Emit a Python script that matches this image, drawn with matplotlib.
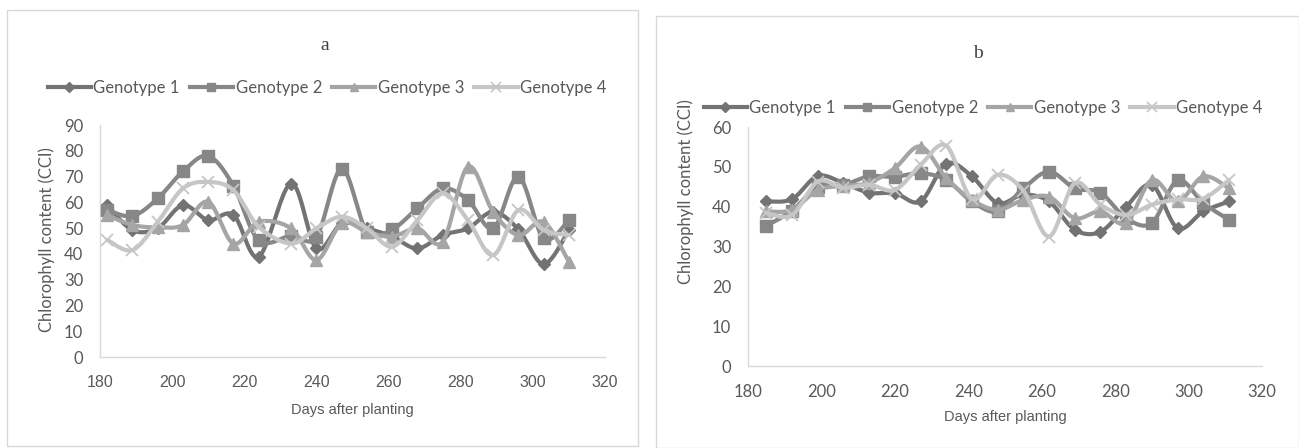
import numpy as np
import matplotlib
matplotlib.use("Agg")
import matplotlib.pyplot as plt
from matplotlib.patches import Rectangle
from matplotlib.lines import Line2D

# ---------------- data ----------------
series_names = ["Genotype 1", "Genotype 2", "Genotype 3", "Genotype 4"]

days_a = [182, 189, 196, 203, 210, 217, 224, 233, 240, 247, 254, 261, 268, 275, 282, 289, 296, 303, 310]
gen1_a = [58.9, 49.2, 50.0, 58.9, 53.1, 55.1, 38.9, 67.3, 42.1, 51.8, 49.9, 46.7, 42.1, 47.3, 49.9, 56.3, 49.5, 36.0, 49.2]
gen2_a = [57.0, 54.7, 61.5, 72.0, 78.0, 66.4, 45.3, 47.0, 46.6, 73.0, 48.6, 49.5, 57.7, 65.4, 60.9, 49.9, 69.9, 46.0, 53.1]
gen3_a = [55.0, 51.2, 50.3, 51.2, 60.2, 44.0, 52.4, 49.9, 37.6, 51.8, 48.6, 46.7, 49.9, 44.7, 73.8, 56.3, 47.3, 52.4, 36.9]
gen4_a = [45.4, 41.5, 52.4, 65.4, 67.9, 64.7, 50.5, 44.0, 49.9, 54.4, 49.9, 42.8, 53.1, 63.5, 53.1, 39.5, 57.0, 49.2, 47.3]

days_b = [185, 192, 199, 206, 213, 220, 227, 234, 241, 248, 255, 262, 269, 276, 283, 290, 297, 304, 311]
gen1_b = [41.3, 41.9, 47.7, 45.9, 43.5, 43.4, 41.3, 50.8, 47.6, 40.9, 43.0, 41.3, 34.2, 33.7, 40.0, 45.5, 34.6, 38.8, 41.3]
gen2_b = [35.2, 39.0, 45.0, 45.5, 47.6, 47.5, 48.4, 46.7, 41.3, 38.8, 44.6, 48.8, 44.6, 43.5, 37.1, 35.9, 46.6, 40.9, 36.7]
gen3_b = [38.8, 39.2, 44.2, 45.2, 46.0, 49.7, 55.1, 47.2, 41.7, 39.2, 41.7, 42.5, 37.1, 38.8, 35.9, 46.7, 41.3, 47.6, 44.6]
gen4_b = [38.4, 37.9, 46.3, 44.7, 45.5, 44.2, 50.5, 55.3, 41.9, 48.0, 44.0, 32.5, 45.9, 40.5, 37.9, 40.5, 41.8, 42.0, 46.7]

xticks = [180, 200, 220, 240, 260, 280, 300, 320]
yticks_a = [0, 10, 20, 30, 40, 50, 60, 70, 80, 90]
yticks_b = [0, 10, 20, 30, 40, 50, 60]

# ---------------- style ----------------
colors = ["#737373", "#878787", "#a5a5a5", "#c6c6c6"]
markers = ["D", "s", "^", "x"]
msizes = [6.5, 8, 8.5, 9]
W, H = 1299, 448
font_main = "Lato"
txt_col = "#595959"


def smooth(x, y, n=24):
    pts = np.column_stack([np.asarray(x, float), np.asarray(y, float)])
    out = []
    m = len(pts)
    for i in range(m - 1):
        p0 = pts[i - 1] if i > 0 else pts[i]
        p1 = pts[i]
        p2 = pts[i + 1]
        p3 = pts[i + 2] if i + 2 < m else pts[i + 1]
        c1 = p1 + (p2 - p0) / 6.0
        c2 = p2 - (p3 - p1) / 6.0
        t = np.linspace(0, 1, n)[:, None]
        seg = ((1 - t) ** 3) * p1 + 3 * ((1 - t) ** 2) * t * c1 + 3 * (1 - t) * t ** 2 * c2 + t ** 3 * p2
        if i > 0:
            seg = seg[1:]
        out.append(seg)
    out = np.vstack(out)
    return out[:, 0], out[:, 1]


fig = plt.figure(figsize=(W / 100, H / 100), dpi=100)
fig.patch.set_facecolor("white")


def px_axes(l, t, r, b):
    return fig.add_axes([l / W, 1 - b / H, (r - l) / W, (b - t) / H])


def draw_panel(rect, border, days, data, yticks, ymax, title, title_xy, leg_xy,
               ylab_xy, xlab_y, xtick_font, xtick_size):
    bl, bt, br, bb = border
    fig.patches.append(Rectangle((bl / W, 1 - bb / H), (br - bl) / W, (bb - bt) / H,
                                 transform=fig.transFigure, fill=False,
                                 edgecolor="#d9d9d9", linewidth=1.0))
    ax = px_axes(*rect)
    for k, ys in enumerate(data):
        sx, sy = smooth(days, ys)
        ax.plot(sx, sy, color=colors[k], linewidth=3.0, solid_capstyle="round", zorder=2 + k)
        if markers[k] == "x":
            ax.plot(days, ys, linestyle="none", marker="x", markersize=msizes[k],
                    markeredgewidth=1.3, color=colors[k], zorder=2 + k)
        else:
            ax.plot(days, ys, linestyle="none", marker=markers[k], markersize=msizes[k],
                    markerfacecolor=colors[k], markeredgecolor=colors[k], zorder=2 + k)
    ax.set_xlim(180, 320)
    ax.set_ylim(0, ymax)
    ax.set_xticks(xticks)
    ax.set_yticks(yticks)
    ax.tick_params(axis="y", length=0, labelsize=12, colors=txt_col, pad=12)
    ax.tick_params(axis="x", length=0, labelsize=xtick_size, colors=txt_col, pad=13)
    for lab in ax.get_yticklabels():
        lab.set_fontfamily(font_main)
    for lab in ax.get_xticklabels():
        lab.set_fontfamily(xtick_font)
    for s in ["top", "right"]:
        ax.spines[s].set_visible(False)
    for s in ["left", "bottom"]:
        ax.spines[s].set_color("#d9d9d9")
        ax.spines[s].set_linewidth(1.0)
    ax.set_facecolor("none")
    fig.text(ylab_xy[0] / W, 1 - ylab_xy[1] / H, "Chlorophyll content (CCI)",
             rotation=90, ha="center", va="center", fontsize=12, color=txt_col, family=font_main)
    fig.text(((rect[0] + rect[2]) / 2) / W, 1 - xlab_y / H, "Days after planting",
             ha="center", va="center", fontsize=10.5, color=txt_col, family="Liberation Sans")
    fig.text(title_xy[0] / W, 1 - title_xy[1] / H, title, ha="center", va="center",
             fontsize=14, color="#404040", family="Liberation Serif")
    handles = []
    for k in range(4):
        if markers[k] == "x":
            h = Line2D([], [], color=colors[k], linewidth=3.0, marker="x", markersize=7,
                       markeredgewidth=1.2)
        else:
            h = Line2D([], [], color=colors[k], linewidth=3.0, marker=markers[k],
                       markersize=6 if markers[k] != "D" else 5.5,
                       markerfacecolor=colors[k], markeredgecolor=colors[k])
        handles.append(h)
    fig.legend(handles, series_names, loc="center",
               bbox_to_anchor=(leg_xy[0] / W, 1 - leg_xy[1] / H),
               ncol=4, frameon=False, handlelength=2.6, handletextpad=0.15,
               columnspacing=0.6, prop={"family": font_main, "size": 12},
               labelcolor=txt_col)
    return ax


draw_panel((100, 125, 605, 357), (7, 10, 638, 446), days_a,
           [gen1_a, gen2_a, gen3_a, gen4_a], yticks_a, 90, "a", (325, 45), (327, 88),
           (47, 240), 410, "Liberation Sans", 11.5)
draw_panel((748, 127, 1262, 366), (656, 16, 1299, 448), days_b,
           [gen1_b, gen2_b, gen3_b, gen4_b], yticks_b, 60, "b", (978, 53), (983, 108),
           (686, 192), 417, font_main, 12)

fig.savefig("out.png", dpi=100, facecolor="white")
